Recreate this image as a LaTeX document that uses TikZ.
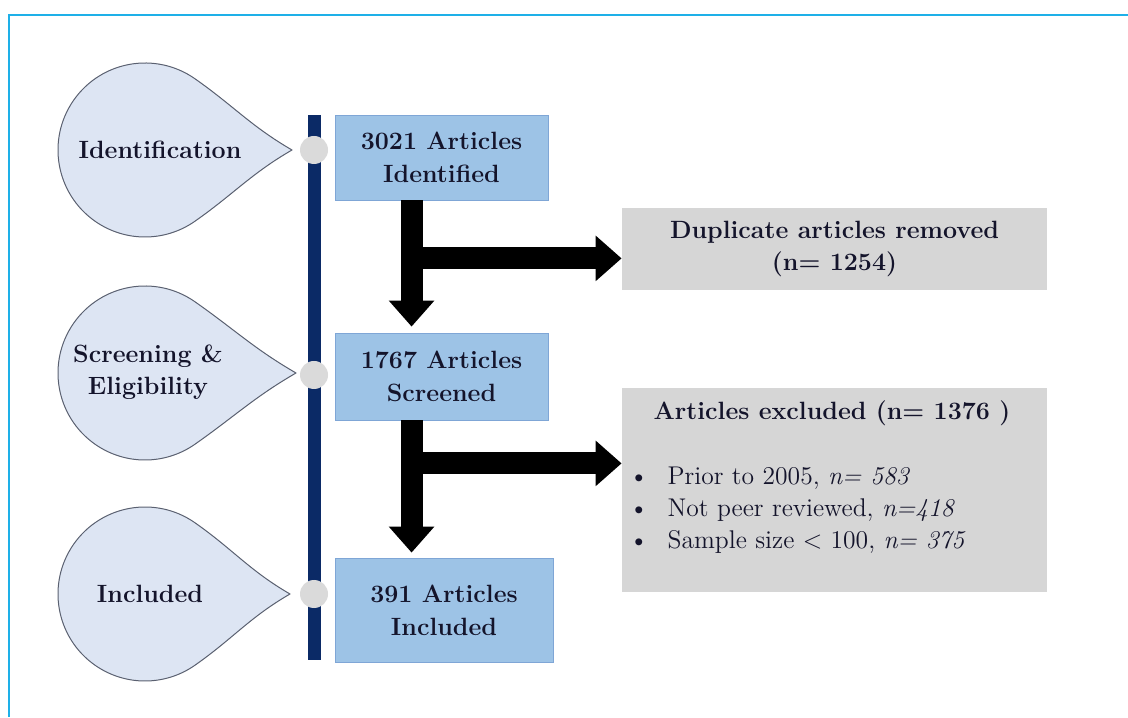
\documentclass[tikz,border=0pt]{standalone}
\usepackage{tikz}
\usetikzlibrary{arrows.meta,calc}
\definecolor{frameblue}{HTML}{1EB0E8}
\definecolor{barnavy}{HTML}{0B2A66}
\definecolor{boxblue}{HTML}{9DC3E6}
\definecolor{boxedge}{HTML}{7FA6D6}
\definecolor{dropfill}{HTML}{DDE5F3}
\definecolor{dropedge}{HTML}{5A6070}
\definecolor{boxgrey}{HTML}{D6D6D6}
\definecolor{inkdark}{HTML}{14142B}
\tikzset{
  stagebox/.style={draw=boxedge,fill=boxblue,text=inkdark,align=center,
    minimum width=106.5pt,minimum height=42.5pt,inner sep=2pt,
    font=\fontsize{12.5}{16.5}\selectfont\bfseries},
  outbox/.style={fill=boxgrey,text=inkdark,align=center,
    minimum width=212.5pt,inner sep=2pt,
    font=\fontsize{12.5}{16}\selectfont\bfseries},
  drop/.style={draw=dropedge,fill=dropfill,line width=0.5pt,line join=round},
  droplabel/.style={text=inkdark,align=center,font=\fontsize{12.5}{16}\selectfont\bfseries},
  dot/.style={circle,fill=boxgrey!90!white,inner sep=0pt,minimum size=14pt},
  bigarrow/.style={line width=11pt,draw=black,
    -{Triangle[length=13pt,width=22pt]}},
}

\begin{document}
\begin{tikzpicture}[x=0.5pt,y=0.5pt]
      \useasboundingbox (0,0) rectangle (1128,717);
      \draw[frameblue,line width=1.2pt] (9,0) -- (9,702) -- (1128,702);

      % stage drops
      \coordinate (C1) at (145,567);
      \coordinate (C2) at (145,344);
      \coordinate (C3) at (145,123);
      \draw[drop] (292,567) to[out=150,in=-35] ($(C1)+(55:87)$)
        arc[start angle=55,end angle=305,radius=43.5pt] to[out=35,in=-150] cycle;
      \draw[drop] (296,344) to[out=150,in=-35] ($(C2)+(55:87)$)
        arc[start angle=55,end angle=305,radius=43.5pt] to[out=35,in=-150] cycle;
      \draw[drop] (290,123) to[out=150,in=-35] ($(C3)+(55:87)$)
        arc[start angle=55,end angle=305,radius=43.5pt] to[out=35,in=-150] cycle;
      \node[droplabel] (L1) at (160,567) {Identification};
      \node[droplabel] (L2) at (148,345) {Screening \&\\Eligibility};
      \node[droplabel] (L3) at (150,123) {Included};

      % timeline
      \coordinate (T0) at (314,602);
      \coordinate (T1) at (314,57);
      \draw[barnavy,line width=6.5pt] (T0) -- (T1);
      \node[dot] (D1) at (314,567) {};
      \node[dot] (D2) at (314,342) {};
      \node[dot] (D3) at (314,123) {};

      % boxes
      \node[stagebox] (B1) at (441.5,559.5) {3021 Articles\\Identified};
      \node[stagebox,minimum height=43.5pt] (B2) at (441.5,340.5) {1767 Articles\\Screened};
      \node[stagebox,minimum width=109pt,minimum height=52pt] (B3) at (444,107) {391 Articles\\Included};
      \node[outbox,minimum height=41pt] (R1) at (834.5,468) {Duplicate articles removed\\(n= 1254)};
      \node[outbox,minimum height=102pt] (R2) at (834.5,227) {};
      \node[text=inkdark,font=\fontsize{12.5}{16}\selectfont\bfseries] (R2h) at (832,304) {Articles excluded (n= 1376 )};
      \node[text=inkdark,anchor=west,align=left,font=\fontsize{12.8}{16}\selectfont] (R2l) at (622,207)
        {\textbullet\hspace{9.5pt}Prior to 2005, \textit{n= 583}\\
         \textbullet\hspace{9.5pt}Not peer reviewed, \textit{n=418}\\
         \textbullet\hspace{9.5pt}Sample size < 100, \textit{n= 375}};

      % arrows
      \coordinate (S1) at ($(B1.south west)!0.36!(B1.south east)$);
      \coordinate (J1) at ($(S1)+(0,-58)$);
      \coordinate (S2) at ($(B2.south west)!0.36!(B2.south east)$);
      \coordinate (J2) at ($(S2)+(0,-43)$);
      \draw[bigarrow,shorten >=3pt] (S1) -- (S1 |- B2.north);
      \draw[bigarrow] (J1) -- (J1 -| R1.west);
      \draw[bigarrow,shorten >=2.5pt] (S2) -- (S2 |- B3.north);
      \draw[bigarrow] (J2) -- (J2 -| R2.west);
    \end{tikzpicture}
\end{document}
